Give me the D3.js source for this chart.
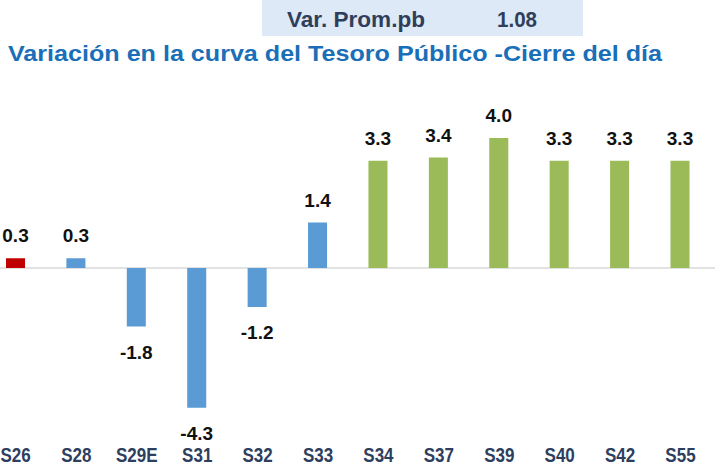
<!DOCTYPE html>
<html>
<head>
<meta charset="utf-8">
<script src="https://cdn.jsdelivr.net/npm/d3@7"></script>
<style>
  body { margin: 0; background: #fff; }
  svg { display: block; }
</style>
</head>
<body>
<svg width="715" height="467"></svg>
<script>
const bonos = ["S26", "S28", "S29E", "S31", "S32", "S33", "S34", "S37", "S39", "S40", "S42", "S55"];
const variacion = [0.3, 0.3, -1.8, -4.3, -1.2, 1.4, 3.3, 3.4, 4.0, 3.3, 3.3, 3.3];
const grupo = ["rojo", "azul", "azul", "azul", "azul", "azul", "verde", "verde", "verde", "verde", "verde", "verde"];
const promedioLabel = "Var. Prom.pb";
const promedio = "1.08";
const titulo = "Variación en la curva del Tesoro Público -Cierre del día";

const colores = { rojo: "#c00000", azul: "#5b9bd5", verde: "#9bbb59" };
const fuente = "'Liberation Sans', Arial, sans-serif";

const svg = d3.select("svg");
const data = bonos.map((b, i) => ({ bono: b, valor: variacion[i], grupo: grupo[i] }));

const scX = d3.scalePoint().domain(bonos).range([15.5, 680]);
const scY = d3.scaleLinear().domain([-5, 5]).range([430.5, 105.5]);
const barW = scX.step() * 0.315;

// angosta el texto a un ancho dado
function narrow(sel, factor) {
    sel.each(function() {
        const len = this.getComputedTextLength();
        d3.select(this)
            .attr("textLength", len * factor)
            .attr("lengthAdjust", "spacingAndGlyphs");
    });
}

// recuadro del promedio
svg.append("rect")
    .attr("x", 262).attr("y", 0)
    .attr("width", 321).attr("height", 36)
    .attr("fill", "#dde9f6");
svg.append("text")
    .attr("x", 287).attr("y", 27)
    .attr("font-family", fuente)
    .attr("font-weight", "bold").attr("font-size", 22)
    .attr("fill", "#2f3e5a")
    .attr("textLength", 138).attr("lengthAdjust", "spacingAndGlyphs")
    .text(promedioLabel);
svg.append("text")
    .attr("x", 497).attr("y", 27)
    .attr("font-family", fuente)
    .attr("font-weight", "bold").attr("font-size", 22)
    .attr("fill", "#2f3e5a")
    .attr("textLength", 40).attr("lengthAdjust", "spacingAndGlyphs")
    .text(promedio);

svg.append("text")
    .attr("x", 8).attr("y", 61)
    .attr("font-family", fuente)
    .attr("font-weight", "bold").attr("font-size", 22)
    .attr("fill", "#1a6fb8")
    .attr("textLength", 654).attr("lengthAdjust", "spacingAndGlyphs")
    .text(titulo);

// linea cero
svg.append("line")
    .attr("x1", 0).attr("x2", 715)
    .attr("y1", scY(0)).attr("y2", scY(0))
    .attr("stroke", "#d9d9d9").attr("stroke-width", 1.5);

svg.selectAll(".bar")
    .data(data)
    .enter()
    .append("rect")
    .attr("class", "bar")
    .attr("x", d => scX(d.bono) - barW / 2)
    .attr("y", d => scY(Math.max(0, d.valor)))
    .attr("width", barW)
    .attr("height", d => Math.abs(scY(d.valor) - scY(0)))
    .attr("fill", d => colores[d.grupo]);

svg.selectAll(".lbl")
    .data(data)
    .enter()
    .append("text")
    .attr("class", "lbl")
    .attr("x", d => scX(d.bono))
    .attr("y", d => d.valor >= 0 ? scY(d.valor) - 16 : scY(d.valor) + 32)
    .attr("text-anchor", "middle")
    .attr("font-family", fuente)
    .attr("font-weight", "bold").attr("font-size", 19)
    .attr("fill", "#111")
    .text(d => d.valor.toFixed(1));

const axisX = d3.axisBottom(scX).tickSize(0).tickPadding(0);
const gx = svg.append("g")
    .attr("transform", "translate(0, 448)")
    .call(axisX);
gx.select(".domain").remove();
gx.selectAll("text")
    .attr("dy", "0.71em")
    .attr("font-family", fuente)
    .attr("font-weight", "bold").attr("font-size", 20)
    .attr("fill", "#2d3e5e")
    .call(narrow, 0.85);
// la primera etiqueta queda pegada al borde izquierdo
gx.selectAll("text").filter(d => d === bonos[0])
    .attr("text-anchor", "start")
    .attr("x", -15.5);
</script>
</body>
</html>
